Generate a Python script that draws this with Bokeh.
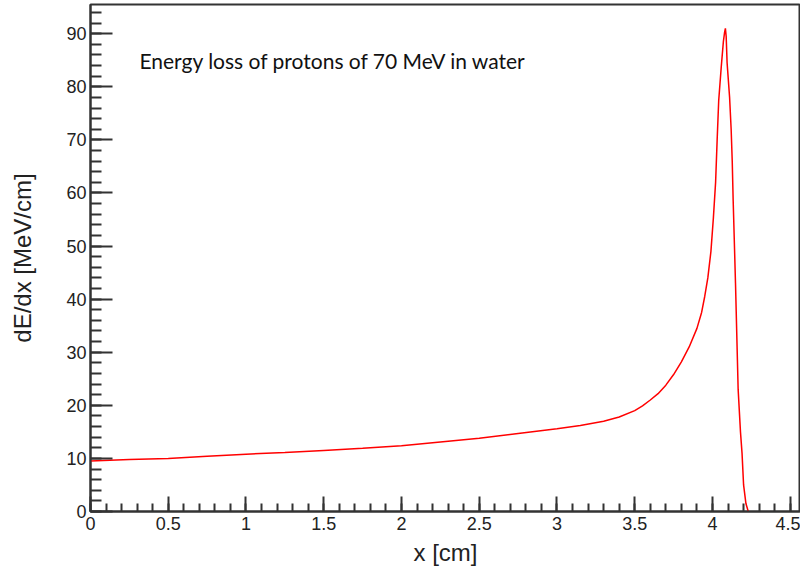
from bokeh.plotting import figure
from bokeh.models import Range1d, SingleIntervalTicker, NumeralTickFormatter, Label
from bokeh.embed import file_html
from bokeh.resources import INLINE

# Depth in water [cm] and stopping power dE/dx [MeV/cm]
depth_cm = [0.0, 0.25, 0.5, 0.75, 1.0, 1.25, 1.5, 1.75, 2.0, 2.25, 2.5, 2.75,
            3.0, 3.15, 3.3, 3.4, 3.5, 3.55, 3.6, 3.65, 3.7, 3.75, 3.8, 3.85,
            3.9, 3.93, 3.95, 3.97, 3.99, 4.006, 4.02, 4.03, 4.04, 4.056, 4.07,
            4.078, 4.083, 4.088, 4.094, 4.11, 4.12, 4.127, 4.133, 4.148, 4.165,
            4.18, 4.19, 4.2, 4.215, 4.23]
dedx = [9.5, 9.8, 10.0, 10.4, 10.8, 11.1, 11.5, 11.9, 12.4, 13.1, 13.8, 14.7,
        15.6, 16.2, 17.0, 17.8, 19.0, 19.9, 21.0, 22.2, 23.8, 25.8, 28.2, 31.0,
        34.5, 37.5, 40.5, 44.0, 49.0, 55.4, 62.0, 70.0, 77.4, 83.6, 88.5,
        90.3, 91.0, 89.5, 84.5, 78.0, 72.0, 66.0, 58.6, 43.0, 23.0,
        15.0, 11.0, 5.0, 1.5, 0.0]

title_text = "Energy loss of protons of 70 MeV in water"
x_label = "x [cm]"
y_label = "dE/dx [MeV/cm]"

p = figure(width=800, height=574, output_backend="svg", toolbar_location=None,
           x_range=Range1d(0, 4.566), y_range=Range1d(0, 95.5),
           min_border_left=90, min_border_right=0, min_border_top=4,
           min_border_bottom=63)
p.background_fill_color = "white"
p.border_fill_color = "white"
p.outline_line_color = "#333333"
p.outline_line_width = 2
p.xgrid.visible = False
p.ygrid.visible = False

p.line(depth_cm, dedx, line_color="#ff0000", line_width=1.5)

axis_color = "#333333"
font = "Liberation Sans"

xa = p.xaxis[0]
xa.ticker = SingleIntervalTicker(interval=0.5, num_minor_ticks=5)
xa.formatter = NumeralTickFormatter(format="0.[0]")
xa.major_tick_in = 15
xa.major_tick_out = 0
xa.minor_tick_in = 8
xa.minor_tick_out = 0
xa.axis_line_width = 2
xa.major_tick_line_width = 2
xa.minor_tick_line_width = 2
xa.axis_line_color = axis_color
xa.major_tick_line_color = axis_color
xa.minor_tick_line_color = axis_color
xa.major_label_text_font = font
xa.major_label_text_font_size = "18px"
xa.major_label_text_color = "#222222"
xa.major_label_standoff = 5
xa.axis_label = x_label
xa.axis_label_text_font = font
xa.axis_label_text_font_size = "24px"
xa.axis_label_text_font_style = "normal"
xa.axis_label_text_color = "#222222"
xa.axis_label_standoff = 6

ya = p.yaxis[0]
ya.ticker = SingleIntervalTicker(interval=10, num_minor_ticks=5)
ya.major_tick_in = 22
ya.major_tick_out = 0
ya.minor_tick_in = 11
ya.minor_tick_out = 0
ya.axis_line_width = 2
ya.major_tick_line_width = 2
ya.minor_tick_line_width = 2
ya.axis_line_color = axis_color
ya.major_tick_line_color = axis_color
ya.minor_tick_line_color = axis_color
ya.major_label_text_font = font
ya.major_label_text_font_size = "18px"
ya.major_label_text_color = "#222222"
ya.major_label_standoff = 4
ya.axis_label = y_label
ya.axis_label_text_font = font
ya.axis_label_text_font_size = "24px"
ya.axis_label_text_font_style = "normal"
ya.axis_label_text_color = "#222222"
ya.axis_label_standoff = 27

lbl = Label(x=0.315, y=84.9, text=title_text, text_font="Lato",
            text_font_size="21px", text_color="#111111",
            text_baseline="alphabetic", text_align="left")
p.add_layout(lbl)

open("out.html", "w").write(file_html(p, INLINE))
